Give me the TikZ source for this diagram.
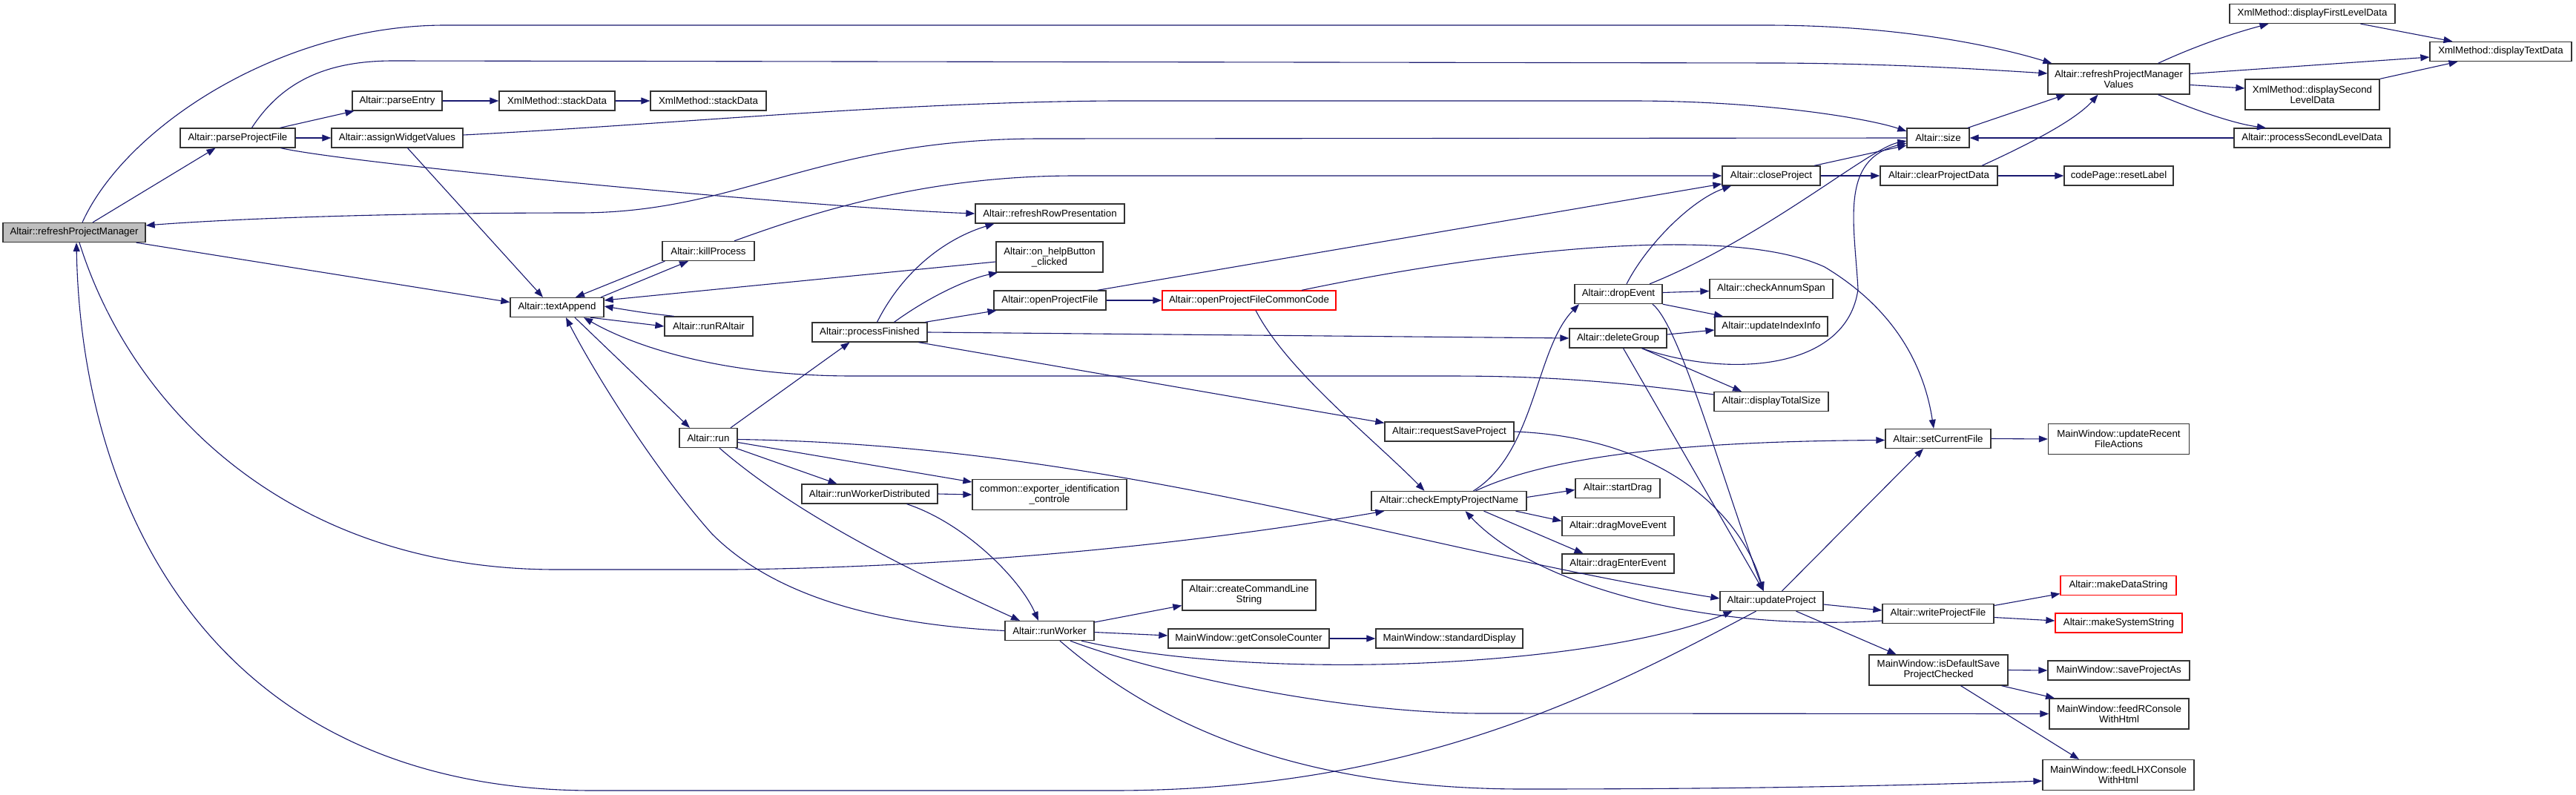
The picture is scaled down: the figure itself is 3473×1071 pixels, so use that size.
\documentclass[tikz,border=0pt]{standalone}
\usepackage{fontspec}
\setmainfont{Liberation Sans}
\usepackage{tikz}
\usetikzlibrary{arrows.meta}
\definecolor{callblue}{RGB}{25,25,112}
\tikzset{
  fn/.style={
    draw=black!80,
    line width=1.3pt,
    fill=white,
    minimum height=26pt,
    inner sep=0pt,
    font=\fontsize{13.3}{14}\selectfont,
    align=center
  },
  fntwo/.style={fn, minimum height=41pt},
  fnred/.style={fn, draw=red},
  fnroot/.style={fn, fill=black!25},
  callarrow/.style={draw=callblue, line width=1.1pt, -{Triangle[length=12pt,width=9pt]}},
}
\newcommand{\FnBox}[5][fn]{%
  \node[#1, minimum width=#4pt] (#2) at (#3) {#5};%
}

\begin{document}
\begin{tikzpicture}[x=1pt, y=-1pt]
  \path[use as bounding box, fill=white] (0,0) rectangle (3473,1071);

  \FnBox[fnroot]{rpm}{100,313.5}{192}{Altair::refreshProjectManager}
  \FnBox{parseProjectFile}{320.5,186}{155}{Altair::parseProjectFile}
  \FnBox{assignWidgetValues}{535.5,186}{177}{Altair::assignWidgetValues}
  \FnBox{parseEntry}{535.5,136}{121}{Altair::parseEntry}
  \FnBox{stackDataA}{751,136}{156}{XmlMethod::stackData}
  \FnBox{stackDataB}{955,136}{156}{XmlMethod::stackData}
  \FnBox{textAppend}{751,414.5}{126}{Altair::textAppend}
  \FnBox{killProcess}{955,338.5}{124}{Altair::killProcess}
  \FnBox{runRAltair}{955.5,440}{119}{Altair::runRAltair}
  \FnBox{run}{955,590.5}{78}{Altair::run}
  \FnBox{processFinished}{1172.5,448}{155}{Altair::processFinished}
  \FnBox{runWorkerDistributed}{1172.5,666}{183}{Altair::runWorkerDistributed}
  \FnBox[fntwo]{exporter}{1415,667}{208}{common::exporter\_identification\\\_controle}
  \FnBox{runWorker}{1415,850.5}{120}{Altair::runWorker}
  \FnBox{refreshRowPresentation}{1415.5,288}{201}{Altair::refreshRowPresentation}
  \FnBox[fntwo]{onHelpButton}{1415,346.5}{144}{Altair::on\_helpButton\\\_clicked}
  \FnBox{openProjectFile}{1415.5,405}{151}{Altair::openProjectFile}
  \FnBox[fnred]{openCommonCode}{1684,405}{234}{Altair::openProjectFileCommonCode}
  \FnBox{size}{2613,186}{84}{Altair::size}
  \FnBox{closeProject}{2388,237}{132}{Altair::closeProject}
  \FnBox{clearProjectData}{2614,237}{158}{Altair::clearProjectData}
  \FnBox[fntwo]{rpmValues}{2856.5,106.5}{191}{Altair::refreshProjectManager\\Values}
  \FnBox{displayFirst}{3117.5,18.5}{223}{XmlMethod::displayFirstLevelData}
  \FnBox{displayText}{3371.5,69.5}{191}{XmlMethod::displayTextData}
  \FnBox[fntwo]{displaySecond}{3117.5,127.5}{181}{XmlMethod::displaySecond\\LevelData}
  \FnBox{processSecond}{3117,186}{210}{Altair::processSecondLevelData}
  \FnBox{resetLabel}{2856.5,237}{147}{codePage::resetLabel}
  \FnBox{dropEvent}{2182,396.5}{118}{Altair::dropEvent}
  \FnBox{checkAnnumSpan}{2388,389.5}{166}{Altair::checkAnnumSpan}
  \FnBox{updateIndexInfo}{2388,440}{152}{Altair::updateIndexInfo}
  \FnBox{deleteGroup}{2181.5,456}{131}{Altair::deleteGroup}
  \FnBox{displayTotalSize}{2388,541.5}{154}{Altair::displayTotalSize}
  \FnBox{requestSaveProject}{1954,582}{174}{Altair::requestSaveProject}
  \FnBox{setCurrentFile}{2613,591.5}{142}{Altair::setCurrentFile}
  \FnBox[fntwo]{updateRecent}{2856.5,592}{190}{MainWindow::updateRecent\\FileActions}
  \FnBox{checkEmpty}{1953.5,675.5}{209}{Altair::checkEmptyProjectName}
  \FnBox{startDrag}{2181,658.5}{114}{Altair::startDrag}
  \FnBox{dragMoveEvent}{2181.5,709.5}{151}{Altair::dragMoveEvent}
  \FnBox{dragEnterEvent}{2181.5,760}{151}{Altair::dragEnterEvent}
  \FnBox[fntwo]{createCommandLine}{1684,802.5}{180}{Altair::createCommandLine\\String}
  \FnBox{getConsoleCounter}{1683.5,861}{217}{MainWindow::getConsoleCounter}
  \FnBox{standardDisplay}{1954,861}{198}{MainWindow::standardDisplay}
  \FnBox{updateProject}{2388.5,810.5}{139}{Altair::updateProject}
  \FnBox{writeProjectFile}{2613,827.5}{150}{Altair::writeProjectFile}
  \FnBox[fnred]{makeDataString}{2856,789.5}{156}{Altair::makeDataString}
  \FnBox[fnred]{makeSystemString}{2856.5,840}{171}{Altair::makeSystemString}
  \FnBox[fntwo]{isDefaultSave}{2613.5,903.5}{187}{MainWindow::isDefaultSave\\ProjectChecked}
  \FnBox{saveProjectAs}{2856.5,904}{191}{MainWindow::saveProjectAs}
  \FnBox[fntwo]{feedRConsole}{2857,962.5}{188}{MainWindow::feedRConsole\\WithHtml}
  \FnBox[fntwo]{feedLHXConsole}{2856,1045}{204}{MainWindow::feedLHXConsole\\WithHtml}

  \foreach \a/\b in {parseProjectFile/assignWidgetValues, parseEntry/stackDataA, stackDataA/stackDataB,
      processFinished/deleteGroup, openProjectFile/openCommonCode, runWorkerDistributed/exporter,
      getConsoleCounter/standardDisplay, closeProject/clearProjectData, clearProjectData/resetLabel,
      setCurrentFile/updateRecent, isDefaultSave/saveProjectAs}
    \draw[callarrow] (\a.east) -- (\b.west);
  \draw[callarrow] (processSecond.west) -- (size.east);

  \draw[callarrow] ([xshift=11pt]rpm.north) .. controls (170,170) and (380,34) .. (600,34) -- (2380,34) .. controls (2560,34) and (2690,62) .. ([xshift=6pt]rpmValues.north west);
  \draw[callarrow] ([xshift=19pt]parseProjectFile.north) .. controls (380,110) and (440,82) .. (530,82) -- (2400,85) .. controls (2560,86) and (2680,94) .. ([yshift=7.5pt]rpmValues.west);
  \draw[callarrow] ([xshift=25pt]rpm.north) -- ([xshift=-30pt]parseProjectFile.south);
  \draw[callarrow] ([xshift=-13pt]rpm.south east) -- ([yshift=7pt]textAppend.west);
  \draw[callarrow] ([xshift=7pt]rpm.south) .. controls (180,560) and (400,768) .. (750,768) -- (990,768) .. controls (1300,764) and (1600,735) .. ([xshift=18pt]checkEmpty.south west);
  \draw[callarrow] ([xshift=-21pt]updateProject.south) .. controls (2150,940) and (1900,1066) .. (1500,1066) -- (800,1066) .. controls (300,1066) and (110,700) .. ([xshift=3pt]rpm.south);
  \draw[callarrow] (size.west) -- (1400,187) .. controls (1100,188) and (1000,287) .. (780,287) .. controls (500,287) and (300,296) .. ([yshift=9.5pt]rpm.east);

  \draw[callarrow] ([xshift=57pt]parseProjectFile.north) -- ([xshift=-58pt]parseEntry.south);
  \draw[callarrow] ([xshift=58pt]parseProjectFile.south) .. controls (480,222) and (1100,280) .. (refreshRowPresentation.west);
  \draw[callarrow] ([yshift=4pt]assignWidgetValues.east) .. controls (900,168) and (1200,138) .. (1500,136) -- (2200,136) .. controls (2380,136) and (2520,160) .. ([yshift=9pt]size.west);
  \draw[callarrow] ([xshift=14pt]assignWidgetValues.south) -- ([xshift=-19pt]textAppend.north);

  \draw[callarrow] ([xshift=4pt]killProcess.south west) -- ([xshift=25pt]textAppend.north);
  \draw[callarrow] ([xshift=59pt]textAppend.north) -- ([xshift=-27pt]killProcess.south);
  \draw[callarrow] ([xshift=45pt]textAppend.south) -- (runRAltair.west);
  \draw[callarrow] ([xshift=-47pt]runRAltair.north) .. controls (870,422) .. ([yshift=1.5pt]textAppend.east);
  \draw[callarrow] ([yshift=-6.5pt]onHelpButton.west) -- ([yshift=9.5pt]textAppend.east);
  \draw[callarrow] ([yshift=9.5pt]displayTotalSize.west) .. controls (2150,510) and (2050,507) .. (1950,507) -- (1150,507) .. controls (980,507) and (860,470) .. ([xshift=36pt]textAppend.south);
  \draw[callarrow] (runWorker.west) .. controls (1150,840) and (1030,790) .. (960,720) .. controls (880,630) and (800,500) .. ([xshift=12pt]textAppend.south);
  \draw[callarrow] ([xshift=24pt]textAppend.south) -- ([xshift=-25pt]run.north);
  \draw[callarrow] ([xshift=35pt]killProcess.north) .. controls (1100,285) and (1250,237) .. (1450,237) -- (closeProject.west);

  \draw[callarrow] ([xshift=30pt]run.north) -- ([xshift=-27pt]processFinished.south);
  \draw[callarrow] ([xshift=-3pt]run.south east) -- ([xshift=-44pt]runWorkerDistributed.north);
  \draw[callarrow] ([yshift=-6pt]run.east) -- ([yshift=17pt]exporter.west);
  \draw[callarrow] ([xshift=15pt]run.south) .. controls (1080,700) and (1250,780) .. ([xshift=-40pt]runWorker.north);
  \draw[callarrow] ([yshift=-2pt]run.east) .. controls (1500,600) and (1900,740) .. ([yshift=3.5pt]updateProject.west);

  \draw[callarrow] ([xshift=10pt]processFinished.north) .. controls (1220,360) and (1280,320) .. ([xshift=-75pt]refreshRowPresentation.south);
  \draw[callarrow] ([xshift=33pt]processFinished.north) .. controls (1260,395) and (1310,375) .. ([xshift=-70pt]onHelpButton.south);
  \draw[callarrow] ([xshift=75pt]processFinished.north) -- ([xshift=-72pt]openProjectFile.south);
  \draw[callarrow] ([xshift=66pt]processFinished.south) -- ([yshift=-2pt]requestSaveProject.north west);

  \draw[callarrow] ([xshift=64pt]openProjectFile.north) -- ([yshift=-11pt]closeProject.west);
  \draw[callarrow] ([xshift=71pt]openCommonCode.north) .. controls (2000,340) and (2330,300) .. (2460,360) .. controls (2560,420) and (2595,500) .. ([xshift=-6pt]setCurrentFile.north);
  \draw[callarrow] ([xshift=9pt]openCommonCode.south) .. controls (1735,500) and (1850,590) .. ([xshift=-33pt]checkEmpty.north);

  \draw[callarrow] ([xshift=33pt]checkEmpty.north) .. controls (2070,610) and (2070,470) .. ([xshift=-53pt]dropEvent.south);
  \draw[callarrow] ([xshift=36pt]checkEmpty.north) .. controls (2100,610) and (2300,595) .. ([yshift=-2pt]setCurrentFile.west);
  \draw[callarrow] ([yshift=5pt]checkEmpty.east) -- ([yshift=-2pt]startDrag.west);
  \draw[callarrow] ([xshift=90pt]checkEmpty.south) -- ([yshift=7pt]dragMoveEvent.west);
  \draw[callarrow] ([xshift=47pt]checkEmpty.south) -- ([xshift=-47pt]dragEnterEvent.north);

  \draw[callarrow] (requestSaveProject.east) .. controls (2250,590) and (2350,700) .. ([xshift=-11pt]updateProject.north);
  \draw[callarrow] ([xshift=46pt]dropEvent.south) .. controls (2265,440) and (2320,640) .. ([xshift=-11pt]updateProject.north);
  \draw[callarrow] ([xshift=7pt]deleteGroup.south) -- ([xshift=-11pt]updateProject.north);
  \draw[callarrow] ([yshift=2pt]dropEvent.east) -- ([yshift=-3pt]checkAnnumSpan.west);
  \draw[callarrow] (dropEvent.south east) -- ([xshift=-65pt]updateIndexInfo.north);
  \draw[callarrow] ([yshift=5pt]deleteGroup.east) -- ([yshift=-5pt]updateIndexInfo.west);
  \draw[callarrow] ([xshift=32pt]deleteGroup.south) -- ([xshift=-40pt]displayTotalSize.north);
  \draw[callarrow] ([xshift=32pt]deleteGroup.south) .. controls (2330,510) and (2490,500) .. (2505,390) .. controls (2500,300) and (2480,215) .. ([yshift=-7pt]size.west);
  \draw[callarrow] ([xshift=11pt]dropEvent.north) .. controls (2220,330) and (2280,270) .. ([xshift=-54pt]closeProject.south);
  \draw[callarrow] ([xshift=42pt]dropEvent.north) .. controls (2380,320) and (2520,200) .. ([yshift=-4pt]size.west);

  \draw[callarrow] ([xshift=58pt]closeProject.north) -- ([yshift=-10pt]size.west);
  \draw[callarrow] ([xshift=58pt]clearProjectData.north) .. controls (2745,190) and (2800,160) .. ([xshift=-28pt]rpmValues.south);
  \draw[callarrow] ([xshift=40pt]size.north) -- ([xshift=-72pt]rpmValues.south);
  \draw[callarrow] ([xshift=53pt]rpmValues.north) .. controls (2960,62) and (3010,45) .. ([xshift=-59pt]displayFirst.south);
  \draw[callarrow] ([yshift=7pt]rpmValues.east) -- ([yshift=-7.5pt]displayText.west);
  \draw[callarrow] ([yshift=-8pt]rpmValues.east) -- ([yshift=8.5pt]displaySecond.west);
  \draw[callarrow] ([xshift=53pt]rpmValues.south) .. controls (2975,155) and (3020,168) .. ([xshift=-62pt]processSecond.north);
  \draw[callarrow] ([xshift=65pt]displayFirst.south) -- ([xshift=-65pt]displayText.north);
  \draw[callarrow] (displaySecond.north east) -- ([xshift=-58pt]displayText.south);

  \draw[callarrow] ([xshift=14pt]updateProject.north) -- ([xshift=-20pt]setCurrentFile.south);
  \draw[callarrow] ([yshift=-4.5pt]updateProject.east) -- ([yshift=4.5pt]writeProjectFile.west);
  \draw[callarrow] ([xshift=33pt]updateProject.south) -- ([xshift=-57pt]isDefaultSave.north);
  \draw[callarrow] ([yshift=-9.5pt]writeProjectFile.west) .. controls (2300,852) and (2070,790) .. ([xshift=22pt]checkEmpty.south);
  \draw[callarrow] ([yshift=11pt]writeProjectFile.east) -- ([yshift=-11pt]makeDataString.west);
  \draw[callarrow] ([yshift=-5pt]writeProjectFile.east) -- ([yshift=3pt]makeSystemString.west);
  \draw[callarrow] ([xshift=85pt]isDefaultSave.south) -- ([xshift=-87pt]feedRConsole.north);
  \draw[callarrow] ([xshift=30pt]isDefaultSave.south) -- ([xshift=-53pt]feedLHXConsole.north);

  \draw[callarrow] ([xshift=50pt]runWorkerDistributed.south) .. controls (1300,705) and (1375,780) .. ([xshift=-15pt]runWorker.north);
  \draw[callarrow] ([yshift=11.5pt]runWorker.east) -- ([yshift=-14pt]createCommandLine.west);
  \draw[callarrow] ([yshift=-2pt]runWorker.east) -- ([yshift=4pt]getConsoleCounter.west);
  \draw[callarrow] ([xshift=43pt]runWorker.south) .. controls (1700,920) and (2150,900) .. ([xshift=-53pt]updateProject.south);
  \draw[callarrow] ([xshift=28pt]runWorker.south) .. controls (1550,905) and (1800,962) .. (2000,962) -- (feedRConsole.west);
  \draw[callarrow] ([xshift=14pt]runWorker.south) .. controls (1540,960) and (1720,1063) .. (2050,1064) .. controls (2400,1064) and (2600,1058) .. ([yshift=-8pt]feedLHXConsole.west);
\end{tikzpicture}
\end{document}
